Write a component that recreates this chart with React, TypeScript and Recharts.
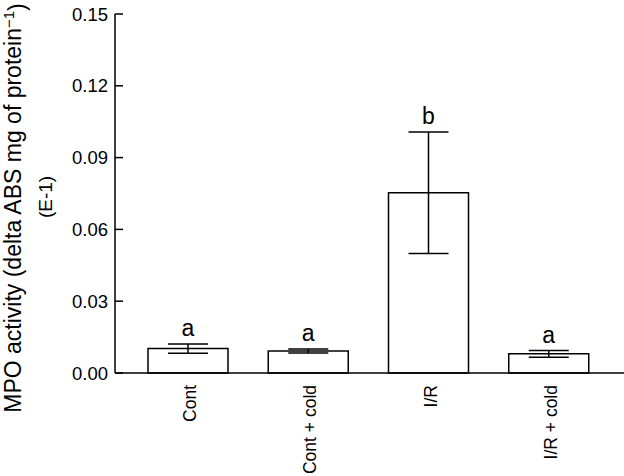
import React from 'react';
import { BarChart, Bar, XAxis, YAxis, ErrorBar, Label } from 'recharts';

const groups = ['Cont', 'Cont + cold', 'I/R', 'I/R + cold'];
const meanValues = [0.0102, 0.0092, 0.0753, 0.0080];
const errorValues = [0.0019, 0.0008, 0.0254, 0.0014];
const letters = ['a', 'a', 'b', 'a'];
const yTicks = [0, 0.03, 0.06, 0.09, 0.12, 0.15];

const font = '"Liberation Sans", Arial, Helvetica, sans-serif';

const data = groups.map((g, i) => ({
    group: g,
    mpo: meanValues[i],
    err: errorValues[i],
    letter: letters[i],
}));

const YTick = (props: any) => {
    const { x, y, payload } = props;
    return (
        <g>
            <line x1={x + 7} x2={x + 15} y1={y} y2={y} stroke="#000" strokeWidth={1.5} />
            <text x={x} y={y} textAnchor="end" dy="0.36em" fontSize={18.5} fontFamily={font} fill="#000">
                {Number(payload.value).toFixed(2)}
            </text>
        </g>
    );
};

const XTick = (props: any) => {
    const { x, y, payload } = props;
    return (
        <text
            x={x}
            y={y}
            transform={`rotate(-90, ${x}, ${y})`}
            textAnchor="end"
            dy="0.45em"
            fontSize={17.5}
            fontFamily={font}
            fill="#000"
        >
            {payload.value}
        </text>
    );
};

// letter sits above the upper error cap; error converted to px with the bar's own scale
const LetterLabel = (props: any) => {
    const vb = props.viewBox || {};
    const x = props.x ?? vb.x;
    const y = props.y ?? vb.y;
    const width = props.width ?? vb.width;
    const height = props.height ?? vb.height;
    const index = props.index;
    if (index == null || x == null) return null;
    const pxPerUnit = height / meanValues[index];
    const errPx = errorValues[index] * pxPerUnit;
    return (
        <text x={x + width / 2} y={y - errPx - 8} textAnchor="middle" fontSize={23} fontFamily={font} fill="#000">
            {letters[index]}
        </text>
    );
};

const YLabel = () => (
    <g fontFamily={font} fill="#000">
        <text transform="translate(13, 208) rotate(-90)" textAnchor="middle" dy="0.35em" fontSize={23}>
            MPO activity (delta ABS mg of protein
            <tspan dy="-0.5em" fontSize={15}>−1</tspan>
            <tspan dy="0.5em">)</tspan>
        </text>
        <text transform="translate(45, 197) rotate(-90)" textAnchor="middle" dy="0.35em" fontSize={19}>
            (E-1)
        </text>
    </g>
);

export default function App() {
    return (
        <div style={{ position: 'absolute', left: 0, top: 0, background: '#fff' }}>
            <BarChart
                width={624}
                height={476}
                data={data}
                margin={{ top: 14, right: 0, left: 0, bottom: 0 }}
                barSize={80}
            >
                <XAxis
                    dataKey="group"
                    height={103}
                    axisLine={{ stroke: '#000', strokeWidth: 1.5 }}
                    tickLine={false}
                    tickSize={0}
                    tickMargin={12}
                    padding={{ left: 13, right: 15 }}
                    tick={<XTick />}
                    interval={0}
                />
                <YAxis
                    width={115}
                    domain={[0, 0.15]}
                    ticks={yTicks}
                    axisLine={{ stroke: '#000', strokeWidth: 1.5 }}
                    tickLine={false}
                    tickSize={0}
                    tickMargin={7}
                    tick={<YTick />}
                    interval={0}
                >
                    <Label content={<YLabel />} />
                </YAxis>
                <Bar
                    dataKey="mpo"
                    fill="#fff"
                    stroke="#000"
                    strokeWidth={1.5}
                    isAnimationActive={false}
                    label={<LetterLabel />}
                >
                    <ErrorBar dataKey="err" width={20} stroke="#000" strokeWidth={1.5} direction="y" isAnimationActive={false} />
                </Bar>
            </BarChart>
        </div>
    );
}
